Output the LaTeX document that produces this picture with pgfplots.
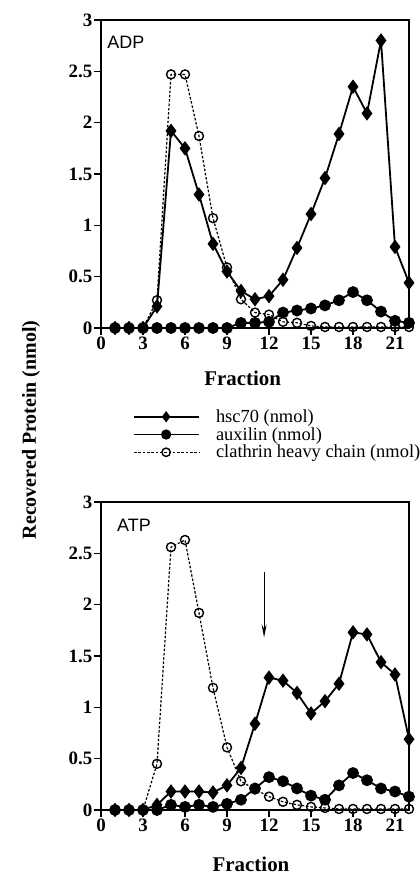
\documentclass[border=0pt]{standalone}
\usepackage{fontspec}
\setmainfont{Liberation Serif}
\newfontfamily\helv{Liberation Sans}
\usepackage{pgfplots}
\pgfplotsset{compat=1.18}
\usetikzlibrary{arrows.meta}

\pgfplotsset{
 myaxis/.style={
  scale only axis, width=308bp, height=308bp,
  xmin=0, xmax=22, ymin=0, ymax=3,
  axis lines=box,
  xtick={0,3,6,9,12,15,18,21}, ytick={0,0.5,1,1.5,2,2.5,3},
  tick align=outside, xtick pos=bottom, ytick pos=left,
  major tick length=7bp,
  axis line style={line width=1.4bp, black},
  every tick/.style={black, line width=1.3bp},
  /pgf/number format/assume math mode=true,
  ticklabel style={font=\bfseries\fontsize{19}{19}\selectfont},
  yticklabel style={inner xsep=1.5pt},
  xticklabel style={inner ysep=2pt},
  clip=false,
  xlabel={Fraction},
  xlabel style={font=\bfseries\fontsize{21}{21}\selectfont, anchor=center},
 },
 hsc/.style={black, line width=1.8bp, mark=diamond*, mark size=5.8bp, mark options={solid}},
 aux/.style={black, line width=1.8bp, mark=*, mark size=5bp, mark options={solid}},
 cla/.style={black, line width=1.2bp, dash pattern=on 2.5bp off 1.8bp, mark=o, mark size=4.5bp, mark options={solid, fill=white, line width=1.4bp}},
}

\begin{document}
\begin{tikzpicture}
% ---------------- ADP ----------------
\begin{axis}[myaxis, at={(101bp,549bp)}, anchor=south west,
  xlabel style={at={(axis description cs:0.46,-0.162)}},
  legend cell align=left,
  legend style={draw=none, fill=none, at={(axis description cs:0.104,-0.261)}, anchor=north west,
    font=\fontsize{18.5}{18.5}\selectfont, row sep=1.5bp, inner sep=0pt,
    nodes={inner sep=1pt},
    /tikz/every odd column/.append style={column sep=15bp}},
  legend image code/.code={\draw[mark repeat=2,mark phase=2, mark size=4.2bp] plot coordinates {(0bp,0bp)(32bp,0bp)(65bp,0bp)};},
]
\addplot[cla, forget plot] coordinates {
(1,0)(2,0)(3,0)(4,0.27)(5,2.47)(6,2.47)(7,1.87)(8,1.07)(9,0.59)(10,0.28)(11,0.15)
(12,0.13)(13,0.06)(14,0.05)(15,0.02)(16,0.01)(17,0.01)(18,0.01)(19,0.01)(20,0.01)(21,0.01)(22,0.01)};
\addplot[hsc] coordinates {
(1,0)(2,0)(3,0)(4,0.21)(5,1.92)(6,1.75)(7,1.30)(8,0.82)(9,0.55)(10,0.36)(11,0.28)
(12,0.31)(13,0.47)(14,0.78)(15,1.11)(16,1.46)(17,1.89)(18,2.35)(19,2.09)(20,2.80)(21,0.79)(22,0.44)};
\addlegendentry{hsc70 (nmol)}
\addplot[aux] coordinates {
(1,0)(2,0)(3,0)(4,0)(5,0)(6,0)(7,0)(8,0)(9,0)(10,0.05)(11,0.05)
(12,0.06)(13,0.15)(14,0.17)(15,0.19)(16,0.22)(17,0.27)(18,0.35)(19,0.27)(20,0.16)(21,0.07)(22,0.05)};
\addlegendentry{auxilin (nmol)}
\addlegendimage{cla}
\addlegendentry{clathrin heavy chain (nmol)}
\node[anchor=west, font=\helv\fontsize{18}{18}\selectfont, inner sep=0pt] at (rel axis cs:0.02,0.929) {ADP};
\end{axis}
% ---------------- ATP ----------------
\begin{axis}[myaxis, at={(101bp,67bp)}, anchor=south west,
  xlabel style={at={(axis description cs:0.487,-0.178)}},
]
\addplot[cla] coordinates {
(1,0)(2,0)(3,0)(4,0.45)(5,2.56)(6,2.63)(7,1.92)(8,1.19)(9,0.61)(10,0.28)(11,0.20)
(12,0.13)(13,0.08)(14,0.05)(15,0.03)(16,0.02)(17,0.01)(18,0.01)(19,0.01)(20,0.01)(21,0.01)(22,0.01)};
\addplot[hsc] coordinates {
(1,0)(2,0)(3,0)(4,0.05)(5,0.18)(6,0.18)(7,0.18)(8,0.17)(9,0.24)(10,0.41)(11,0.84)
(12,1.29)(13,1.26)(14,1.14)(15,0.94)(16,1.06)(17,1.23)(18,1.73)(19,1.71)(20,1.44)(21,1.32)(22,0.69)};
\addplot[aux] coordinates {
(1,0)(2,0)(3,0)(4,0)(5,0.05)(6,0.03)(7,0.05)(8,0.03)(9,0.06)(10,0.10)(11,0.21)
(12,0.32)(13,0.28)(14,0.21)(15,0.14)(16,0.10)(17,0.24)(18,0.36)(19,0.29)(20,0.21)(21,0.18)(22,0.13)};
\draw[-{Stealth[length=13bp,width=5bp]}, line width=1.2bp] (axis cs:11.65,2.32) -- (axis cs:11.65,1.68);
\node[anchor=west, font=\helv\fontsize{18}{18}\selectfont, inner sep=0pt] at (rel axis cs:0.052,0.925) {ATP};
\end{axis}
\node[rotate=90, font=\bfseries\fontsize{20}{20}\selectfont] at (31bp,447bp) {Recovered Protein (nmol)};
\pgfresetboundingbox
\path[use as bounding box] (0,0) rectangle (420bp,877bp);
\end{tikzpicture}
\end{document}
